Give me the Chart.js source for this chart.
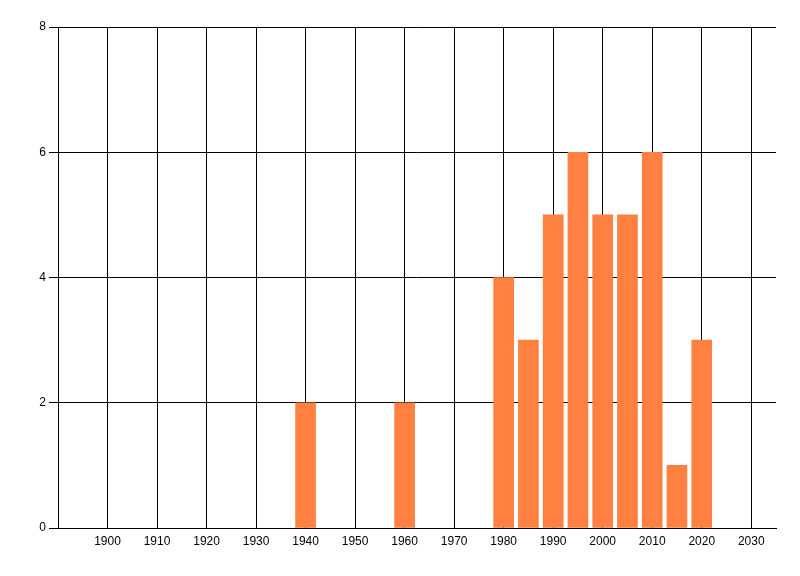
<!DOCTYPE html>
<html>
<head>
<meta charset="utf-8">
<script src="https://cdn.jsdelivr.net/npm/chart.js@4/dist/chart.umd.min.js"></script>
<style>
  html, body { margin: 0; padding: 0; background: #fff; }
  #wrap { width: 800px; height: 576px; }
</style>
</head>
<body>
<div id="wrap"><canvas id="chart" width="800" height="576"></canvas></div>
<script>
// values
const years = [1940, 1960, 1980, 1985, 1990, 1995, 2000, 2005, 2010, 2015, 2020];
const counts = [2, 2, 4, 3, 5, 6, 5, 5, 6, 1, 3];
const xTicks = [1900, 1910, 1920, 1930, 1940, 1950, 1960, 1970, 1980, 1990, 2000, 2010, 2020, 2030];
const yTicks = [0, 2, 4, 6, 8];

const tickFont = { family: 'Liberation Sans', size: 12 };

const ctx = document.getElementById('chart').getContext('2d');
new Chart(ctx, {
    type: 'bar',
    data: {
        datasets: [{
            data: years.map((x, i) => ({ x: x, y: counts[i] })),
            backgroundColor: '#ff8040',
            borderWidth: 0,
            barThickness: 20
        }]
    },
    options: {
        responsive: false,
        animation: false,
        devicePixelRatio: 1,
        layout: { padding: { left: 0, top: 27, right: 24, bottom: 0 } },
        plugins: {
            legend: { display: false },
            tooltip: { enabled: false }
        },
        scales: {
            x: {
                type: 'linear',
                min: 1890,
                max: 2035,
                offset: false,
                afterBuildTicks: (scale) => {
                    scale.ticks = xTicks.map(v => ({ value: v }));
                },
                afterFit: (scale) => { scale.height = 48; },
                grid: { color: '#000', lineWidth: 1, drawTicks: false, offset: false },
                border: { display: true, color: '#000', width: 1 },
                ticks: {
                    color: '#000', font: tickFont, padding: 6, maxRotation: 0, autoSkip: false,
                    callback: (v) => String(v)
                }
            },
            y: {
                min: 0,
                max: 8,
                afterBuildTicks: (scale) => {
                    scale.ticks = yTicks.map(v => ({ value: v }));
                },
                afterFit: (scale) => { scale.width = 58; },
                grid: { color: '#000', lineWidth: 1, drawTicks: true, tickLength: 9 },
                border: { display: true, color: '#000', width: 1 },
                ticks: { color: '#000', font: tickFont, padding: 3, callback: (v) => String(v) }
            }
        }
    }
});
</script>
</body>
</html>
